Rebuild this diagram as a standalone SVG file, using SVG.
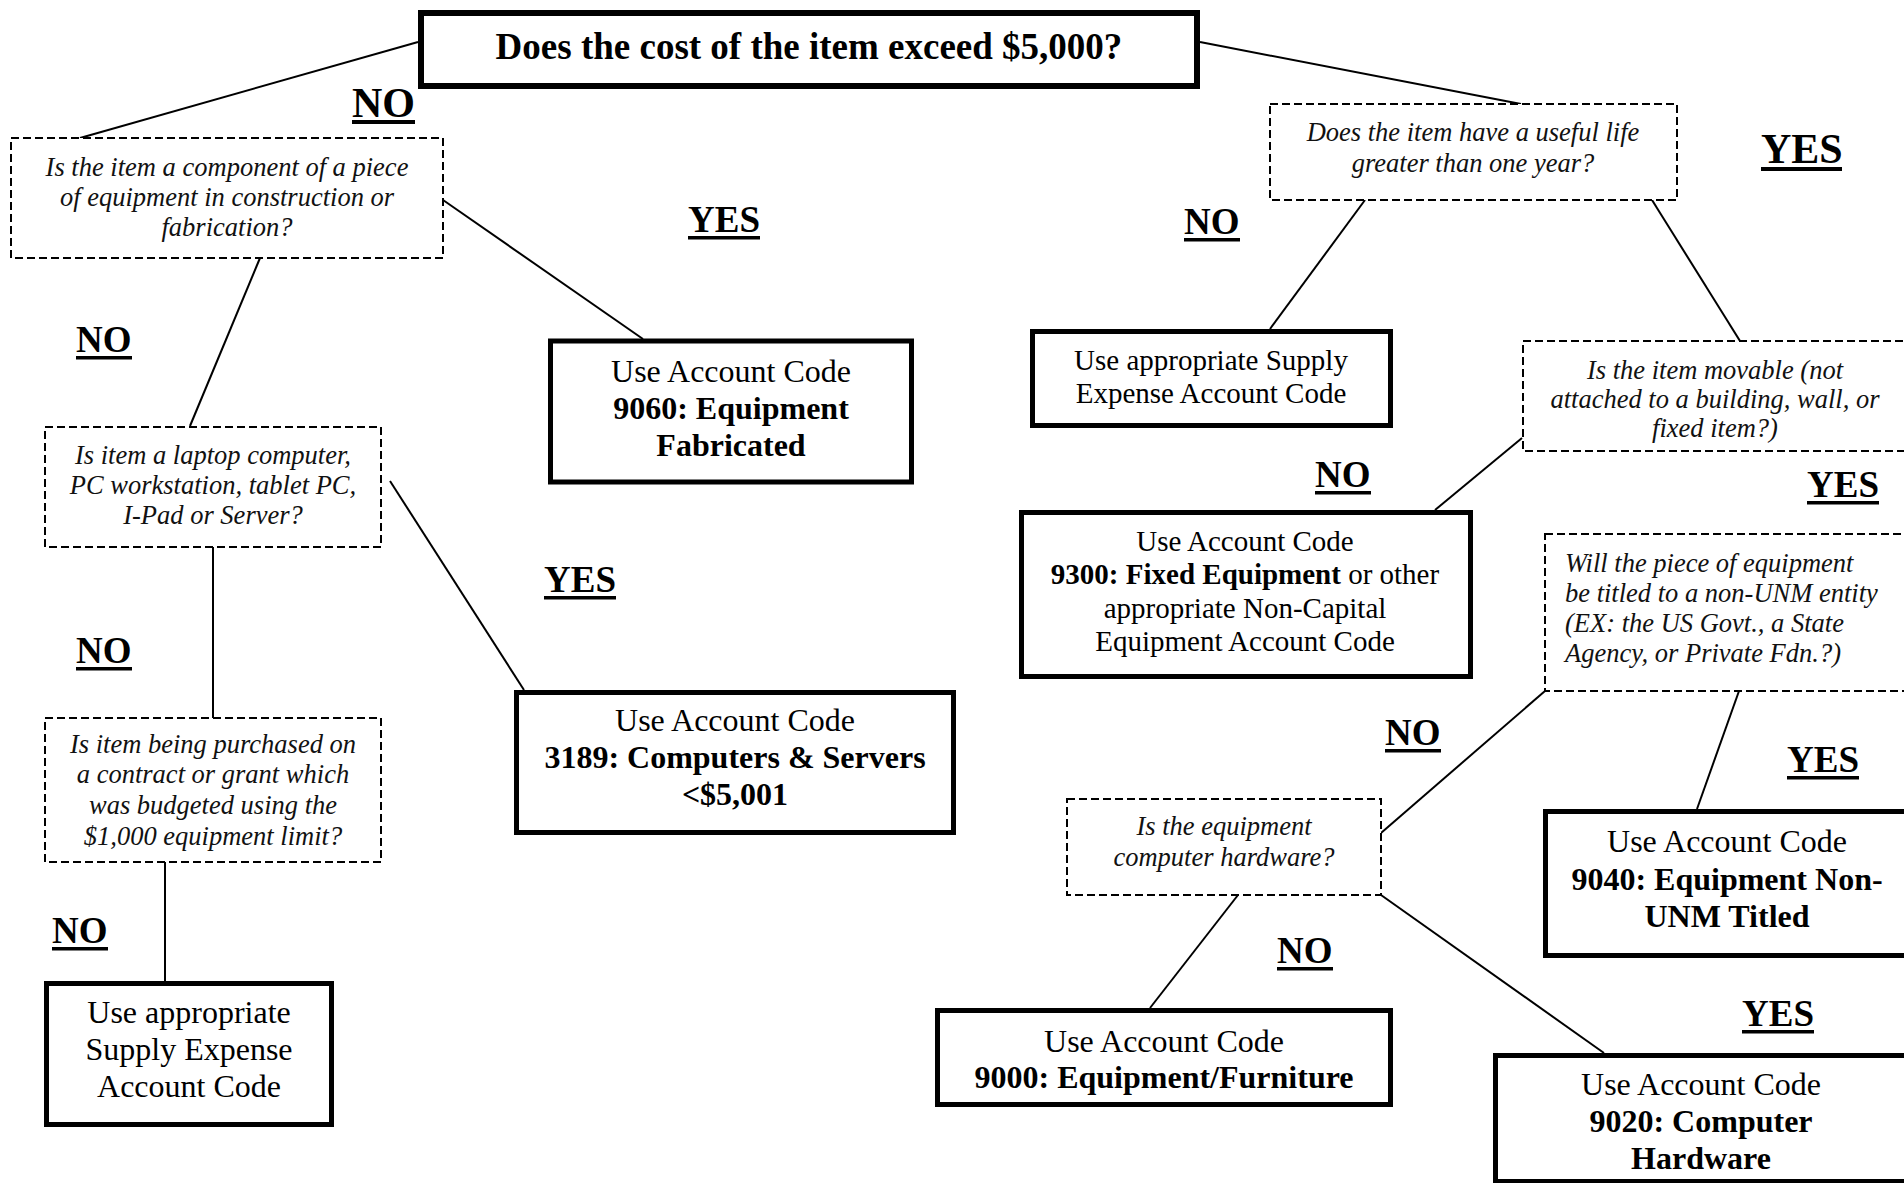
<svg xmlns="http://www.w3.org/2000/svg" width="1904" height="1183" viewBox="0 0 1904 1183">
<style>
  .bg{fill:#fff}
  .solid{fill:#fff;stroke:#000;stroke-width:5}
  .dash{fill:#fff;stroke:#000;stroke-width:2;stroke-dasharray:8 4}
  .conn line{stroke:#000;stroke-width:2}
  text{font-family:"Liberation Serif","Times New Roman",serif;fill:#000}
  .q{font-style:italic;font-size:26.5px;text-anchor:middle;fill:#111}
  .ql{font-style:italic;font-size:26.5px;text-anchor:start;fill:#111}
  .r{font-size:32px;text-anchor:middle}
  .r29{font-size:29px;text-anchor:middle}
  .b{font-weight:bold}
  .lbl{font-weight:bold;font-size:37px;text-anchor:start}
  .lblBig{font-weight:bold;font-size:42px;text-anchor:start}
</style>
<rect class="bg" x="0" y="0" width="1904" height="1183"/>

<g id="connectors" class="conn">
  <line x1="418" y1="42" x2="80" y2="138"/>
  <line x1="1200" y1="42" x2="1521" y2="104"/>
  <line x1="443" y1="200" x2="643" y2="339"/>
  <line x1="260" y1="258" x2="190" y2="426"/>
  <line x1="390" y1="481" x2="524" y2="690"/>
  <line x1="213" y1="547" x2="213" y2="718"/>
  <line x1="165" y1="862" x2="165" y2="981"/>
  <line x1="1365" y1="200" x2="1270" y2="329"/>
  <line x1="1652" y1="200" x2="1740" y2="341"/>
  <line x1="1522" y1="438" x2="1435" y2="510"/>
  <line x1="1545" y1="691" x2="1381" y2="833"/>
  <line x1="1739" y1="691" x2="1697" y2="809"/>
  <line x1="1238" y1="895" x2="1150" y2="1008"/>
  <line x1="1381" y1="895" x2="1604" y2="1053"/>
</g>

<g id="n-top">
  <rect x="421" y="13" width="776" height="73" fill="#fff" stroke="#000" stroke-width="6"/>
  <text x="809" y="59" text-anchor="middle" font-weight="bold" font-size="37">Does the cost of the item exceed $5,000?</text>
</g>

<g id="n-q1">
  <rect class="dash" x="11" y="138" width="432" height="120"/>
  <text class="q" x="227" y="176">Is the item a component of a piece</text>
  <text class="q" x="227" y="206">of equipment in construction or</text>
  <text class="q" x="227" y="236">fabrication?</text>
</g>

<g id="n-9060">
  <rect class="solid" x="550.5" y="341" width="361" height="141"/>
  <text class="r" x="731" y="382">Use Account Code</text>
  <text class="r b" x="731" y="419">9060: Equipment</text>
  <text class="r b" x="731" y="456">Fabricated</text>
</g>

<g id="n-qlaptop">
  <rect class="dash" x="45" y="427" width="336" height="120"/>
  <text class="q" x="213" y="464">Is item a laptop computer,</text>
  <text class="q" x="213" y="494">PC workstation, tablet PC,</text>
  <text class="q" x="213" y="524">I-Pad or Server?</text>
</g>

<g id="n-3189">
  <rect class="solid" x="516.5" y="692.5" width="437" height="140"/>
  <text class="r" x="735" y="731">Use Account Code</text>
  <text class="r b" x="735" y="768">3189: Computers &amp; Servers</text>
  <text class="r b" x="735" y="805">&lt;$5,001</text>
</g>

<g id="n-qpurchase">
  <rect class="dash" x="45" y="718" width="336" height="144"/>
  <text class="q" x="213" y="753">Is item being purchased on</text>
  <text class="q" x="213" y="783">a contract or grant which</text>
  <text class="q" x="213" y="814">was budgeted using the</text>
  <text class="q" x="213" y="845">$1,000 equipment limit?</text>
</g>

<g id="n-supply-left">
  <rect class="solid" x="46.5" y="983.5" width="285" height="141"/>
  <text class="r" x="189" y="1023">Use appropriate</text>
  <text class="r" x="189" y="1060">Supply Expense</text>
  <text class="r" x="189" y="1097">Account Code</text>
</g>

<g id="n-quseful">
  <rect class="dash" x="1270" y="104" width="407" height="96"/>
  <text class="q" x="1473" y="141">Does the item have a useful life</text>
  <text class="q" x="1473" y="172">greater than one year?</text>
</g>

<g id="n-supply-right">
  <rect class="solid" x="1032.5" y="331.5" width="358" height="94"/>
  <text class="r29" x="1211" y="370">Use appropriate Supply</text>
  <text class="r29" x="1211" y="403">Expense Account Code</text>
</g>

<g id="n-qmovable">
  <rect class="dash" x="1523" y="341" width="400" height="110"/>
  <text class="q" x="1715" y="379">Is the item movable (not</text>
  <text class="q" x="1715" y="408">attached to a building, wall, or</text>
  <text class="q" x="1715" y="437">fixed item?)</text>
</g>

<g id="n-9300">
  <rect class="solid" x="1021.5" y="512.5" width="449" height="164"/>
  <text class="r29" x="1245" y="551">Use Account Code</text>
  <text class="r29" x="1245" y="584"><tspan font-weight="bold">9300: Fixed Equipment</tspan> or other</text>
  <text class="r29" x="1245" y="618">appropriate Non-Capital</text>
  <text class="r29" x="1245" y="651">Equipment Account Code</text>
</g>

<g id="n-qnonunm">
  <rect class="dash" x="1545" y="534" width="380" height="157"/>
  <text class="ql" x="1565" y="572">Will the piece of equipment</text>
  <text class="ql" x="1565" y="602">be titled to a non-UNM entity</text>
  <text class="ql" x="1565" y="632">(EX: the US Govt., a State</text>
  <text class="ql" x="1565" y="662">Agency, or Private Fdn.?)</text>
</g>

<g id="n-9040">
  <rect class="solid" x="1545.5" y="811.5" width="380" height="144"/>
  <text class="r" x="1727" y="852">Use Account Code</text>
  <text class="r b" x="1727" y="890">9040: Equipment Non-</text>
  <text class="r b" x="1727" y="927">UNM Titled</text>
</g>

<g id="n-qhardware">
  <rect class="dash" x="1067" y="799" width="314" height="96"/>
  <text class="q" x="1224" y="835">Is the equipment</text>
  <text class="q" x="1224" y="866">computer hardware?</text>
</g>

<g id="n-9000">
  <rect class="solid" x="937.5" y="1010.5" width="453" height="94"/>
  <text class="r" x="1164" y="1052">Use Account Code</text>
  <text class="r b" x="1164" y="1088">9000: Equipment/Furniture</text>
</g>

<g id="n-9020">
  <rect class="solid" x="1495.5" y="1055.5" width="430" height="126"/>
  <text class="r" x="1701" y="1095">Use Account Code</text>
  <text class="r b" x="1701" y="1132">9020: Computer</text>
  <text class="r b" x="1701" y="1169">Hardware</text>
</g>

<g id="labels">
  <text class="lblBig" x="352" y="117">NO</text><rect x="352" y="120" width="63" height="4"/>
  <text class="lblBig" x="1761" y="163">YES</text><rect x="1761" y="167" width="81" height="4"/>
  <text class="lbl" x="688" y="232">YES</text><rect x="688" y="236" width="72" height="3.5"/>
  <text class="lbl" x="76" y="352">NO</text><rect x="76" y="356" width="56" height="3.5"/>
  <text class="lbl" x="544" y="592">YES</text><rect x="544" y="596" width="72" height="3.5"/>
  <text class="lbl" x="76" y="663">NO</text><rect x="76" y="667" width="56" height="3.5"/>
  <text class="lbl" x="52" y="943">NO</text><rect x="52" y="947" width="56" height="3.5"/>
  <text class="lbl" x="1184" y="234">NO</text><rect x="1184" y="238" width="56" height="3.5"/>
  <text class="lbl" x="1315" y="487">NO</text><rect x="1315" y="491" width="56" height="3.5"/>
  <text class="lbl" x="1807" y="497">YES</text><rect x="1807" y="501" width="72" height="3.5"/>
  <text class="lbl" x="1385" y="745">NO</text><rect x="1385" y="749" width="56" height="3.5"/>
  <text class="lbl" x="1787" y="772">YES</text><rect x="1787" y="776" width="72" height="3.5"/>
  <text class="lbl" x="1277" y="963">NO</text><rect x="1277" y="967" width="56" height="3.5"/>
  <text class="lbl" x="1742" y="1026">YES</text><rect x="1742" y="1030" width="72" height="3.5"/>
</g>
</svg>
